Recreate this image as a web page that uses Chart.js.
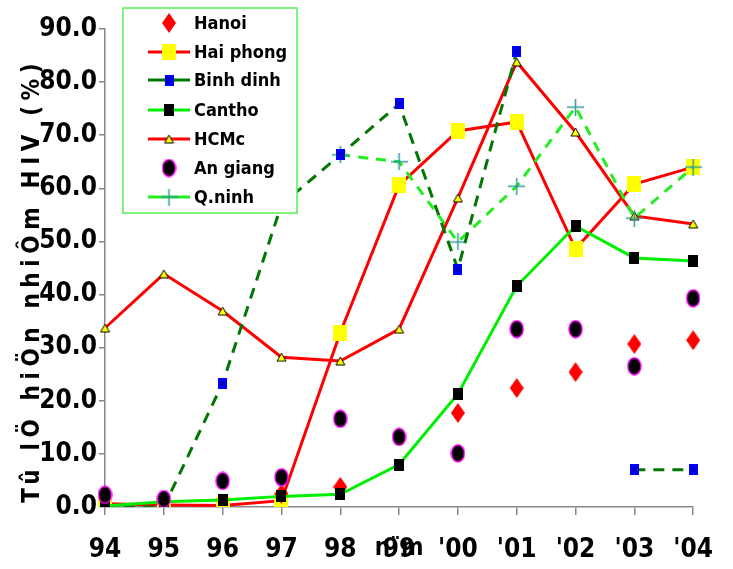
<!DOCTYPE html>
<html><head><meta charset="utf-8">
<script src="https://cdn.jsdelivr.net/npm/chart.js@4"></script>
<style>html,body{margin:0;padding:0;background:#fff;overflow:hidden}#wrap{width:733px;height:569px}</style>
</head><body><div id="wrap"><canvas id="c" width="733" height="569"></canvas></div>
<script>
// ---- data ----
const years = ["94","95","96","97","98","99","'00","'01","'02","'03","'04"];
const seriesNames = ["Hanoi","Hai phong","Binh dinh","Cantho","HCMc","An giang","Q.ninh"];
const hanoi    = [null,null,null,2.5,3.8,null,17.7,22.4,25.4,30.7,31.4];
const haiphong = [0.6,0.4,0.3,1.2,32.8,60.6,70.8,72.5,48.6,60.8,64.0];
const binhdinh = [0,0,23.3,56.9,66.3,75.9,44.8,85.7,null,7.0,7.0];
const cantho   = [0.2,1.0,1.3,2.0,2.4,8.0,21.3,41.6,52.9,46.9,46.3];
const hcmc     = [33.7,43.9,36.9,28.2,27.5,33.5,58.2,83.8,70.6,54.8,53.3];
const angiang  = [2.3,1.5,4.9,5.6,16.6,13.2,10.1,33.5,33.5,26.5,39.3];
const qninh    = [null,null,null,null,66.3,65.0,49.9,60.4,75.3,54.4,64.0];
const yMin = 0, yMax = 90, yStep = 10;
const yTitle = "Tû lÖ hiÖn nhiÔm HIV (%)";
const xTitle = "n¨m";

const FONT = "'Liberation Sans Narrow','Arial Narrow','DejaVu Sans Condensed','Liberation Sans',sans-serif";

function mk(w,h,fn){const c=document.createElement('canvas');c.width=w;c.height=h;fn(c.getContext('2d'),w,h);return c;}
const pDiamond = mk(14,20,(g,w,h)=>{g.fillStyle='#ff0000';g.beginPath();g.moveTo(w/2,0);g.lineTo(w,h/2);g.lineTo(w/2,h);g.lineTo(0,h/2);g.closePath();g.fill();});
const pYellow  = mk(14,16,(g,w,h)=>{g.fillStyle='#ffff00';g.fillRect(0,0,w,h);});
const pBlue    = mk(9,11,(g,w,h)=>{g.fillStyle='#0000ff';g.fillRect(0,0,w,h);g.strokeStyle='#000066';g.lineWidth=1;g.beginPath();g.moveTo(2.5,3);g.lineTo(6.5,8);g.moveTo(6.5,3);g.lineTo(2.5,8);g.stroke();});
const pBlack   = mk(10,12,(g,w,h)=>{g.fillStyle='#000';g.fillRect(0,0,w,h);});
const pTri     = mk(11,10,(g,w,h)=>{g.fillStyle='#ffff00';g.strokeStyle='#000';g.lineWidth=1;g.beginPath();g.moveTo(w/2,1);g.lineTo(w-1,h-1);g.lineTo(1,h-1);g.closePath();g.fill();g.stroke();});
const pEll     = mk(15,19,(g,w,h)=>{g.fillStyle='#000';g.strokeStyle='#ff00ff';g.lineWidth=1.5;g.beginPath();g.ellipse(w/2,h/2,w/2-1,h/2-1,0,0,Math.PI*2);g.fill();g.stroke();});
const pPlus    = mk(17,17,(g,w,h)=>{g.strokeStyle='#2f9a9a';g.lineWidth=1.5;g.beginPath();g.moveTo(w/2,0);g.lineTo(w/2,h);g.moveTo(0,h/2);g.lineTo(w,h/2);g.stroke();});

const sets = [
 {label:seriesNames[0],data:hanoi,showLine:false,pointStyle:pDiamond,borderColor:'#ff0000',order:2},
 {label:seriesNames[1],data:haiphong,borderColor:'#ff0000',borderWidth:3,pointStyle:pYellow,order:6},
 {label:seriesNames[2],data:binhdinh,borderColor:'#007700',borderWidth:3,borderDash:[11,8],pointStyle:pBlue,order:3},
 {label:seriesNames[3],data:cantho,borderColor:'#00ee00',borderWidth:3,pointStyle:pBlack,order:1},
 {label:seriesNames[4],data:hcmc,borderColor:'#ff0000',borderWidth:3,pointStyle:pTri,order:5},
 {label:seriesNames[5],data:angiang,showLine:false,pointStyle:pEll,borderColor:'#000',order:0},
 {label:seriesNames[6],data:qninh,borderColor:'#22ee22',borderWidth:3,borderDash:[10,8],pointStyle:pPlus,order:4}
];
sets.forEach(s=>{s.fill=false;s.tension=0;s.spanGaps=false;s.pointRadius=6;s.backgroundColor=s.borderColor;});

const legendPlugin = {
 id:'customDeco',
 afterDraw(chart){
  const g=chart.ctx;
  g.save();
  // legend box
  g.strokeStyle='#55ee55';g.lineWidth=1.5;
  g.fillStyle='#fff';
  g.fillRect(123,8,174,205);
  g.strokeRect(123,8,174,205);
  const rows=[23,52,80,110,139,168,197];
  g.font="bold 18px "+FONT;g.textBaseline='middle';g.textAlign='left';
  sets.forEach((s,i)=>{
   const y=rows[i];
   if(s.showLine!==false){
     g.save();g.strokeStyle=s.borderColor;g.lineWidth=3;
     g.beginPath();g.moveTo(148,y);g.lineTo(190,y);g.stroke();g.restore();
   }
   const p=s.pointStyle;g.drawImage(p,169-p.width/2,y-p.height/2);
   g.fillStyle='#000';g.fillText(s.label,194,y+1);
  });
  // y title
  g.save();
  g.translate(33,283);g.rotate(-Math.PI/2);
  g.font="bold 24px "+FONT;g.textAlign='center';g.textBaseline='middle';
  const target=445; g.letterSpacing='0px';
  const w=g.measureText(yTitle).width;
  const ls=(target-w)/yTitle.length;
  g.letterSpacing=ls+'px';
  g.fillStyle='#000';g.fillText(yTitle,ls/2,0);
  g.restore();
  // x title overlapping 99
  const xs=chart.scales.x;
  g.font="bold 24px "+FONT;g.textAlign='center';g.textBaseline='middle';g.fillStyle='#000';
  g.fillText(xTitle,xs.getPixelForValue(5),549);
  g.restore();
 }
};

new Chart(document.getElementById('c'),{
 type:'line',
 data:{labels:years,datasets:sets},
 options:{
  responsive:false,animation:false,devicePixelRatio:1,
  layout:{padding:{left:0,top:29,right:19,bottom:0}},
  plugins:{legend:{display:false},tooltip:{enabled:false}},
  scales:{
   x:{type:'category',offset:false,
      grid:{display:true,drawOnChartArea:false,drawTicks:true,tickLength:8,color:'#888',lineWidth:1.5},
      border:{display:true,color:'#888',width:1.5},
      ticks:{color:'#000',font:{family:FONT,size:26,weight:'bold'},padding:20,maxRotation:0,autoSkip:false},
      afterFit(s){s.height=62;}},
   y:{min:yMin,max:yMax,
      grid:{display:true,drawOnChartArea:false,drawTicks:true,tickLength:6,color:'#888',lineWidth:1.5},
      border:{display:true,color:'#888',width:1.5},
      ticks:{stepSize:yStep,color:'#000',font:{family:FONT,size:26,weight:'bold'},padding:2,callback:v=>Number(v).toFixed(1)},
      afterFit(s){s.width=105;}}
  }
 },
 plugins:[legendPlugin]
});
</script></body></html>
